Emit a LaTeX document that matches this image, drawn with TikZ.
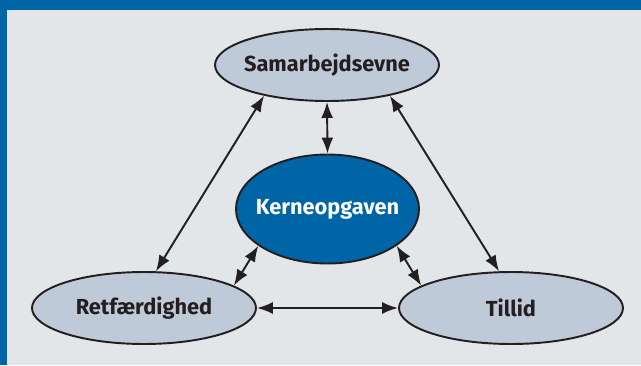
\documentclass[tikz,border=0pt]{standalone}
\usepackage{fontspec}
\setmainfont{Fira Sans}
\usetikzlibrary{shapes.geometric,arrows.meta}
\definecolor{bandblue}{HTML}{0065A7}
\definecolor{panelgray}{HTML}{E2E6E8}
\definecolor{ovalgray}{HTML}{BFCAD9}
\definecolor{inkdark}{HTML}{231F20}
\begin{document}
\begin{tikzpicture}[x=0.02cm,y=-0.02cm,
        outer/.style={draw=inkdark,ellipse,inner xsep=-4mm,inner ysep=0pt,fill=ovalgray,line width=1.1pt,minimum width=4.48cm,minimum height=1.44cm,text=inkdark,font=\fontsize{12.4}{14}\selectfont\bfseries},
        core/.style={draw=inkdark,ellipse,inner xsep=-4mm,inner ysep=0pt,fill=bandblue,line width=1.1pt,minimum width=3.66cm,minimum height=2.18cm,text=white,font=\fontsize{12.4}{14}\selectfont\bfseries},
        link/.style={draw=inkdark,line width=1.1pt,{Latex[length=3.2mm,width=2.4mm]}-{Latex[length=3.2mm,width=2.4mm]}}
      ]
      \fill[bandblue] (0,0) rectangle (641,365);
      \fill[panelgray] (7,10) rectangle (641,365);
      \node[outer] (sam) at (327,65) {Samarbejdsevne};
      \node[core] (kerne) at (327.5,209) {Kerneopgaven};
      \node[outer] (ret) at (144,308) {Retfærdighed};
      \node[outer] (til) at (511,308) {Tillid};
      \draw[link] (sam.south) -- (kerne.north);
      \draw[link] (sam.206) -- (ret.72);
      \draw[link] (sam.334) -- (til.108);
      \draw[link] (kerne.208) -- (ret.14);
      \draw[link] (kerne.332) -- (til.166);
      \draw[link] (ret.east) -- (til.west);
    \end{tikzpicture}
\end{document}
